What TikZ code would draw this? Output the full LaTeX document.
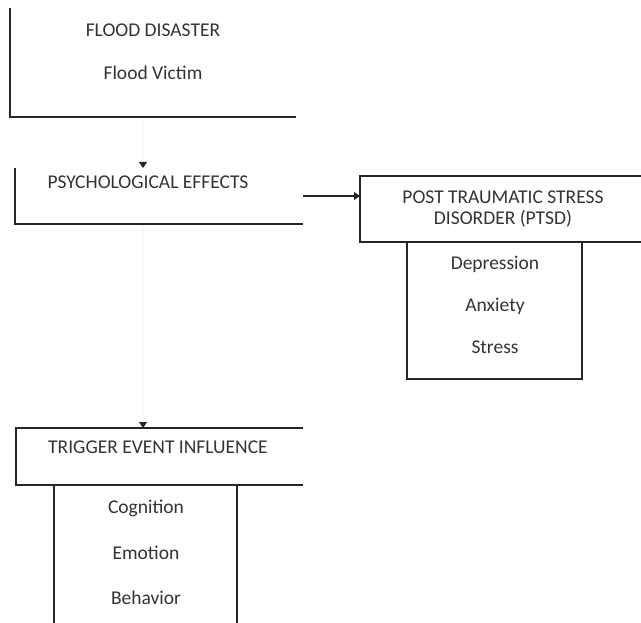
\documentclass[tikz,border=0pt]{standalone}
\usepackage{fontspec}
\setmainfont{Carlito}
\usetikzlibrary{arrows.meta,calc}
\begin{document}
\begin{tikzpicture}[x=1pt,y=-1pt,
  frame/.style={line width=1.2pt,draw=black!85},
  area/.style={inner sep=0pt,outer sep=0pt,anchor=north west},
  lbl/.style={inner sep=0pt,font=\fontsize{19.5}{22}\selectfont,text=black!80},
  arr/.style={line width=1.1pt,-{Triangle[width=8pt,length=6pt,color=black!85]}},
  ghost/.style={draw=black!2}]
\useasboundingbox (0,0) rectangle (641,623);
% areas
\node[area,minimum width=286pt,minimum height=109pt] (b1) at (10,8) {};
\node[area,minimum width=288pt,minimum height=56pt] (b2) at (15,168) {};
\node[area,minimum width=290pt,minimum height=66pt] (pt) at (360,176) {};
\node[area,minimum width=175pt,minimum height=137pt] (ps) at (407,242) {};
\node[area,minimum width=287pt,minimum height=57pt] (tr) at (16,428) {};
\node[area,minimum width=183pt,minimum height=150pt] (ts) at (54,485) {};
% connectors
\coordinate (c1) at (143,117);
\coordinate (c2) at (143,224);
\draw[arr,ghost] (c1) -- (c1 |- b2.north);
\draw[arr,ghost] (c2) -- (c2 |- tr.north);
\draw[arr,draw=black!85] (b2.east |- 0,196) -- (pt.west |- 0,196);
% borders
\draw[frame] (b1.north west) -- (b1.south west) -- (b1.south east);
\draw[frame] (b2.north west) -- (b2.south west) -- (b2.south east);
\draw[frame] (pt.north east) -- (pt.north west) -- (pt.south west) -- (pt.south east);
\draw[frame] (ps.north west) rectangle (ps.south east);
\draw[frame] (tr.north east) -- (tr.north west) -- (tr.south west) -- (tr.south east);
\draw[frame] (ts.south west) -- (ts.north west) -- (ts.north east) -- (ts.south east);
% texts
\node[lbl] (t1) at (153,30) {FLOOD DISASTER};
\node[lbl] (t2) at (153,73) {Flood Victim};
\node[lbl] (t3) at (148,182) {PSYCHOLOGICAL EFFECTS};
\node[lbl] (t4) at (503,197) {POST TRAUMATIC STRESS};
\node[lbl] (t5) at (503,219) {DISORDER (PTSD)};
\node[lbl] (t6) at (495,264) {Depression};
\node[lbl] (t7) at (495,306) {Anxiety};
\node[lbl] (t8) at (495,347) {Stress};
\node[lbl] (t9) at (158,447) {TRIGGER EVENT INFLUENCE};
\node[lbl] (t10) at (146,508) {Cognition};
\node[lbl] (t11) at (146,553) {Emotion};
\node[lbl] (t12) at (146,598) {Behavior};
\end{tikzpicture}
\end{document}
